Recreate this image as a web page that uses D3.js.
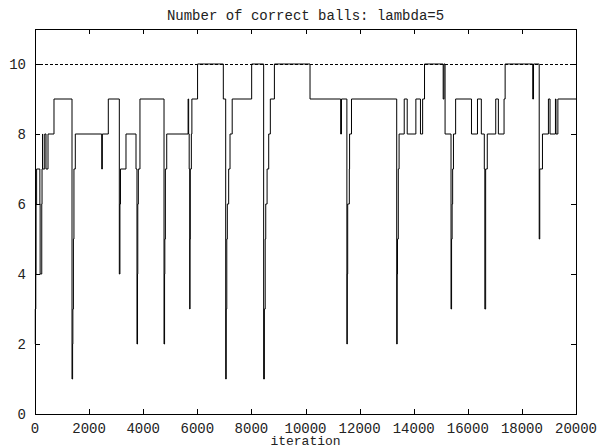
<!DOCTYPE html>
<html>
<head>
<meta charset="utf-8">
<script src="https://cdn.jsdelivr.net/npm/d3@7"></script>
<style>
  html, body { margin: 0; padding: 0; background: #fff; }
  svg { display: block; }
  text { font-family: "Liberation Mono", "DejaVu Sans Mono", monospace; fill: #222; }
</style>
</head>
<body>
<svg id="chart" width="597" height="447"></svg>
<script>
// ---- data ----
const title = "Number of correct balls: lambda=5";
const xLabel = "iteration";
const xTicks = [0, 2000, 4000, 6000, 8000, 10000, 12000, 14000, 16000, 18000, 20000];
const yTicks = [0, 2, 4, 6, 8, 10];
const referenceLevel = 10;

const iterations = [
  0, 10, 30, 40, 60, 180, 190, 250, 260, 280, 285, 360, 407, 481, 702,
  1368, 1390, 1400, 1420, 1440, 1490, 2466, 2490, 2710,
  3117, 3140, 3160, 3364, 3734, 3770, 3790, 3800, 3820, 3880,
  4770, 4790, 4800, 4820, 4870,
  5660, 5680, 5700, 5720, 5730, 5740, 5780, 5800, 6010,
  6962, 7050, 7070, 7090, 7110, 7160, 7210, 7290, 8010,
  8453, 8480, 8510, 8530, 8580, 8640, 8700, 8850,
  10167, 11300, 11330, 11530, 11545, 11560, 11620, 11630, 11700,
  13372, 13390, 13400, 13430, 13460, 13650, 13760, 14080, 14250, 14330, 14400,
  15090, 15120, 15160, 15380, 15400, 15420, 15440, 15470, 15550,
  16136, 16358, 16500, 16610, 16630, 16660, 16720, 17033, 17130, 17340, 17380,
  18400, 18430, 18640, 18660, 18760, 18980, 19040, 19240, 19260, 19330, 20000
];
const correctBalls = [
  2, 3, 4, 6, 7, 6, 4, 6, 7, 8, 7, 8, 7, 8, 9,
  1, 2, 3, 5, 7, 8, 7, 8, 9,
  4, 6, 7, 8, 7, 2, 4, 6, 7, 9,
  2, 4, 5, 7, 8,
  9, 8, 7, 3, 5, 7, 8, 9, 10,
  9, 1, 3, 5, 6, 7, 8, 9, 10,
  1, 3, 5, 6, 7, 8, 9, 10,
  9, 8, 9, 2, 4, 6, 7, 8, 9,
  2, 4, 5, 7, 8, 9, 8, 9, 8, 9, 10,
  9, 10, 8, 3, 5, 6, 7, 8, 9,
  8, 9, 8, 7, 3, 7, 8, 9, 8, 9, 10,
  9, 10, 5, 7, 8, 9, 8, 9, 8, 9, 9
];

const series = iterations.map((it, i) => ({ x: it, y: correctBalls[i] }));

// ---- layout ----
const svg = d3.select("#chart");
const margin = { left: 35, right: 21, top: 29, bottom: 33 };
const W = 597, H = 447;
const x = d3.scaleLinear().domain([0, 20000]).range([margin.left, W - margin.right]);
const y = d3.scaleLinear().domain([0, 11]).range([H - margin.bottom, margin.top]);

// frame
svg.append("rect")
  .attr("x", x(0) + 0.5).attr("y", y(11) + 0.5)
  .attr("width", x(20000) - x(0)).attr("height", y(0) - y(11))
  .attr("fill", "none").attr("stroke", "#000").attr("stroke-width", 1);

// x ticks (inward, mirrored on top)
const tickLen = 5;
const xt = svg.append("g");
xTicks.forEach(t => {
  const px = Math.round(x(t)) + 0.5;
  xt.append("line").attr("x1", px).attr("x2", px)
    .attr("y1", y(0)).attr("y2", y(0) - tickLen).attr("stroke", "#000");
  xt.append("line").attr("x1", px).attr("x2", px)
    .attr("y1", y(11)).attr("y2", y(11) + tickLen).attr("stroke", "#000");
  xt.append("text").attr("x", x(t)).attr("y", y(0) + 19)
    .attr("text-anchor", "middle").attr("font-size", 14).text(t);
});

// y ticks (inward, mirrored on right)
const yt = svg.append("g");
yTicks.forEach(t => {
  const py = Math.round(y(t)) + 0.5;
  yt.append("line").attr("x1", x(0)).attr("x2", x(0) + tickLen)
    .attr("y1", py).attr("y2", py).attr("stroke", "#000");
  yt.append("line").attr("x1", x(20000)).attr("x2", x(20000) - tickLen)
    .attr("y1", py).attr("y2", py).attr("stroke", "#000");
  yt.append("text").attr("x", x(0) - 9).attr("y", y(t) + 5)
    .attr("text-anchor", "end").attr("font-size", 14).text(t);
});

// reference dashed line
svg.append("line")
  .attr("x1", x(0)).attr("x2", x(20000))
  .attr("y1", Math.round(y(referenceLevel)) + 0.5).attr("y2", Math.round(y(referenceLevel)) + 0.5)
  .attr("stroke", "#000").attr("stroke-width", 1).attr("stroke-dasharray", "3,2");

// step line
const line = d3.line().x(d => x(d.x)).y(d => y(d.y)).curve(d3.curveStepAfter);
svg.append("path").datum(series)
  .attr("d", line).attr("fill", "none").attr("stroke", "#000").attr("stroke-width", 1);

// title & label
svg.append("text").attr("x", (x(0) + x(20000)) / 2).attr("y", 20)
  .attr("text-anchor", "middle").attr("font-size", 14).text(title);
svg.append("text").attr("x", (x(0) + x(20000)) / 2).attr("y", 445)
  .attr("text-anchor", "middle").attr("font-size", 13).text(xLabel);
</script>
</body>
</html>
